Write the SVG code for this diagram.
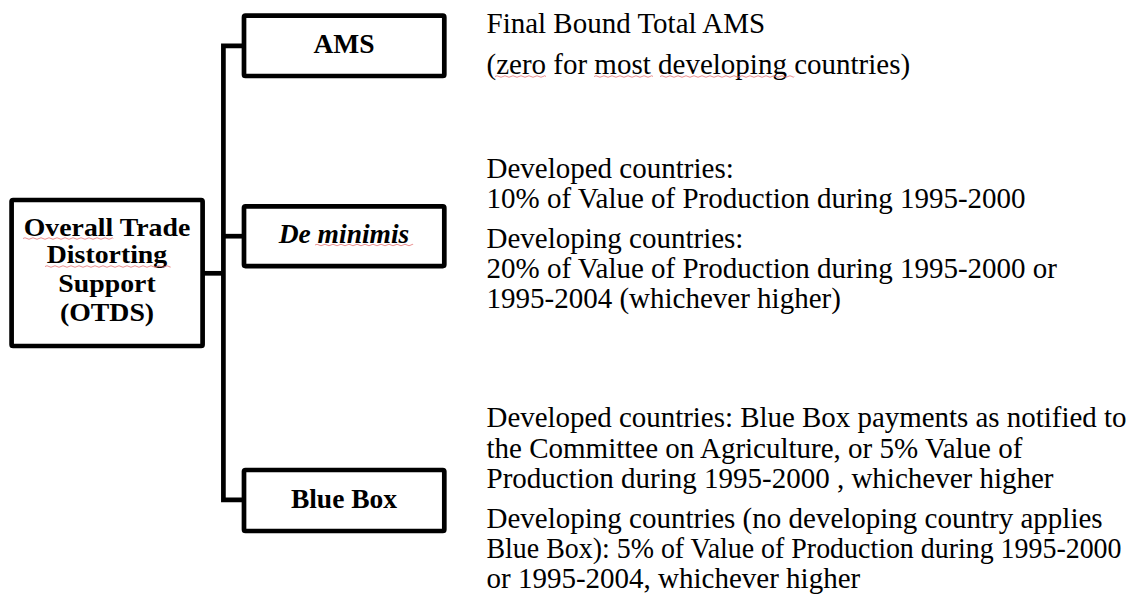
<svg xmlns="http://www.w3.org/2000/svg" width="1140" height="594" viewBox="0 0 1140 594">
  <style>
    .box { fill: #fff; stroke: #000; stroke-width: 4.7; }
    .wire { fill: none; stroke: #000; stroke-width: 4.7; stroke-linejoin: miter; stroke-linecap: butt; }
    .head { font-family: "Liberation Serif", "Times New Roman", serif; font-size: 27.5px; font-weight: bold; fill: #000; text-anchor: middle; }
    .root { font-size: 26px; }
    .ital { font-style: italic; }
    .note { font-family: "Liberation Serif", "Times New Roman", serif; font-size: 29px; fill: #000; }
    .fit { font-size: 28.5px; }
    .spell { fill: none; stroke: #e57373; stroke-width: 1; stroke-opacity: 0.8; }
  </style>
  <rect width="1140" height="594" fill="#fff"/>

  <!-- connectors: root to the branch spine, spine to each child -->
  <g id="connectors">
    <path class="wire" d="M 244 45.8 H 223.4 V 499.8 H 244"/>
    <path class="wire" d="M 223.4 236.2 H 244"/>
    <path class="wire" d="M 202.5 273.3 H 223.4"/>
  </g>

  <!-- root node -->
  <g id="otds">
    <rect class="box" x="11.6" y="200" width="191" height="146" rx="1.5"/>
    <g transform="translate(107 0) scale(1.07 1)">
      <text class="head root" x="0" y="236.5">Overall Trade</text>
      <text class="head root" x="0" y="263.5">Distorting</text>
      <text class="head root" x="0" y="292">Support</text>
      <text class="head root" x="0" y="321">(OTDS)</text>
    </g>
    <path class="spell" d="M 23 238.5 q 2 -1.5 4 0 t 4 0 t 4 0 t 4 0 t 4 0 t 4 0 t 4 0 t 4 0 t 4 0 t 4 0 t 4 0 t 4 0 t 4 0 t 4 0 t 4 0 t 4 0 t 4 0 t 4 0 t 4 0 t 4 0 t 4 0 t 4 0 t 2 0"/>
    <path class="spell" d="M 45 266.5 q 2 -1.5 4 0 t 4 0 t 4 0 t 4 0 t 4 0 t 4 0 t 4 0 t 4 0 t 4 0 t 4 0 t 4 0 t 4 0 t 4 0 t 4 0 t 4 0 t 4 0 t 4 0 t 4 0 t 4 0 t 4 0 t 4 0 t 4 0 t 4 0 t 4 0 t 4 0 t 4 0 t 4 0 t 4 0 t 4 0 t 4 0 t 4 0 t 1 0"/>
  </g>

  <!-- AMS node -->
  <g id="ams">
    <rect class="box" x="244" y="15.7" width="200.3" height="60.3" rx="1.5"/>
    <text class="head" x="344" y="53.3">AMS</text>
  </g>

  <!-- de minimis node -->
  <g id="de-minimis">
    <rect class="box" x="244" y="206.3" width="200.3" height="59.8" rx="1.5"/>
    <text class="head ital" x="344" y="243.3">De minimis</text>
    <path class="spell" d="M 315 245 q 2 -1.5 4 0 t 4 0 t 4 0 t 4 0 t 4 0 t 4 0 t 4 0 t 4 0 t 4 0 t 4 0 t 4 0 t 4 0 t 4 0 t 4 0 t 4 0 t 4 0 t 4 0 t 4 0 t 4 0 t 4 0 t 4 0 t 4 0 t 4 0 t 4 0 t 2 0"/>
  </g>

  <!-- blue box node -->
  <g id="blue-box">
    <rect class="box" x="244" y="470" width="200.3" height="61" rx="1.5"/>
    <text class="head" x="344" y="508.3">Blue Box</text>
  </g>

  <!-- descriptions beside each branch -->
  <g id="ams-note">
    <text class="note" x="486.5" y="33">Final Bound Total AMS</text>
    <text class="note" x="486.5" y="74">(zero for most developing countries)</text>
    <path class="spell" d="M 495 76.5 q 2 -1.5 4 0 t 4 0 t 4 0 t 4 0 t 4 0 t 4 0 t 4 0 t 4 0 t 4 0 t 4 0 t 4 0 t 4 0 t 3 0"/>
    <path class="spell" d="M 594 76.5 q 2 -1.5 4 0 t 4 0 t 4 0 t 4 0 t 4 0 t 4 0 t 4 0 t 4 0 t 4 0 t 4 0 t 4 0 t 4 0 t 4 0 t 4 0 t 3 0"/>
    <path class="spell" d="M 660 76.5 q 2 -1.5 4 0 t 4 0 t 4 0 t 4 0 t 4 0 t 4 0 t 4 0 t 4 0 t 4 0 t 4 0 t 4 0 t 4 0 t 4 0 t 4 0 t 4 0 t 4 0 t 4 0 t 4 0 t 4 0 t 4 0 t 4 0 t 4 0 t 4 0 t 4 0 t 4 0 t 4 0 t 4 0 t 4 0 t 4 0 t 4 0 t 4 0 t 4 0 t 4 0 t 2 0"/>
  </g>

  <g id="de-minimis-note">
    <text class="note" x="486.5" y="178.3">Developed countries:</text>
    <text class="note" x="486.5" y="208.3">10% of Value of Production during 1995-2000</text>
    <text class="note" x="486.5" y="248.3">Developing countries:</text>
    <text class="note" x="486.5" y="278.3">20% of Value of Production during 1995-2000 or</text>
    <text class="note" x="486.5" y="307.8">1995-2004 (whichever higher)</text>
  </g>

  <g id="blue-box-note">
    <text class="note fit" x="486.5" y="426.7" textLength="640" lengthAdjust="spacingAndGlyphs">Developed countries: Blue Box payments as notified to</text>
    <text class="note" x="486.5" y="457.5">the Committee on Agriculture, or 5% Value of</text>
    <text class="note" x="486.5" y="487.7">Production during 1995-2000 , whichever higher</text>
    <text class="note" x="486.5" y="527.7">Developing countries (no developing country applies</text>
    <text class="note fit" x="486.5" y="558" textLength="635" lengthAdjust="spacingAndGlyphs">Blue Box): 5% of Value of Production during 1995-2000</text>
    <text class="note" x="486.5" y="587.8">or 1995-2004, whichever higher</text>
  </g>
</svg>
